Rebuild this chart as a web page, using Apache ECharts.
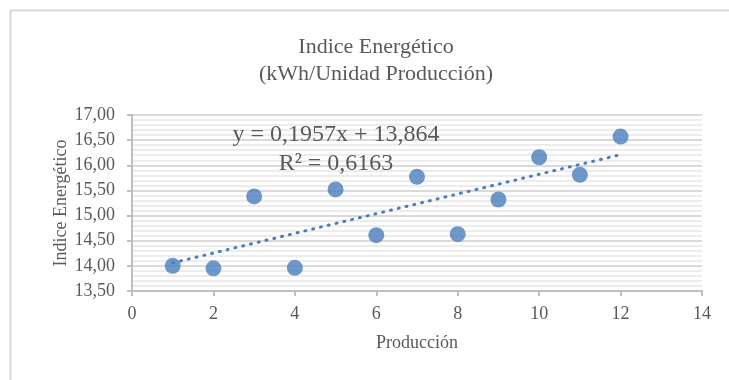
<!DOCTYPE html>
<html>
<head>
<meta charset="utf-8">
<style>
  html, body { margin: 0; padding: 0; background: #ffffff; }
  #chart { width: 729px; height: 380px; }
</style>
<script src="https://cdn.jsdelivr.net/npm/echarts@6/dist/echarts.min.js"></script>
</head>
<body>
<div id="chart"></div>
<script>
// Production index vs. energy index (kWh per unit produced)
const produccion = [1, 2, 3, 4, 5, 6, 7, 8, 9, 10, 11, 12];
const indice = [14.00, 13.95, 15.38, 13.96, 15.52, 14.61, 15.77, 14.63, 15.32, 16.16, 15.81, 16.57];

// Linear trend coefficients shown in the equation label
const slope = 0.1957;
const intercept = 13.864;
const r2 = 0.6163;

const fmt = (v, d) => v.toFixed(d).replace('.', ',');

const points = produccion.map((x, i) => [x, indice[i]]);
const trendX = [produccion[0], produccion[produccion.length - 1]];
const trend = trendX.map(x => [x, intercept + slope * x]);

const serif = '"Liberation Serif", "DejaVu Serif", serif';
const textGray = '#595959';
const blue = '#4a7ebb';

const chart = echarts.init(document.getElementById('chart'), null, { renderer: 'canvas' });
chart.setOption({
  animation: false,
  backgroundColor: '#ffffff',
  graphic: [{
    type: 'rect',
    shape: { x: 10.5, y: 10.5, width: 900, height: 600 },
    style: { fill: 'none', stroke: '#d9d9d9', lineWidth: 2 },
    silent: true,
    z: -10
  }, {
    // chart title, two lines
    type: 'text',
    x: 376,
    y: 34,
    z: 100,
    style: {
      text: 'Indice Energético\n(kWh/Unidad Producción)',
      font: '22px ' + serif,
      fill: textGray,
      align: 'center',
      verticalAlign: 'top',
      lineHeight: 27
    }
  }, {
    // trendline equation
    type: 'text',
    x: 336,
    y: 120,
    z: 100,
    style: {
      text: 'y = ' + fmt(slope, 4) + 'x + ' + fmt(intercept, 3) + '\nR² = ' + fmt(r2, 4),
      font: '24px ' + serif,
      fill: textGray,
      align: 'center',
      verticalAlign: 'top',
      lineHeight: 29
    }
  }],
  grid: { left: 132, right: 27, top: 115, bottom: 89 },
  xAxis: {
    type: 'value',
    min: 0,
    max: 14,
    interval: 2,
    name: 'Producción',
    nameLocation: 'middle',
    nameGap: 43,
    nameMoveOverlap: false,
    nameTextStyle: { fontFamily: serif, fontSize: 18, color: textGray },
    axisLine: { show: true, lineStyle: { color: '#bfbfbf', width: 2 } },
    axisTick: { show: true, length: 5, lineStyle: { color: '#bfbfbf', width: 2 } },
    axisLabel: { fontFamily: serif, fontSize: 18, color: textGray, margin: 14 },
    splitLine: { show: false }
  },
  yAxis: {
    type: 'value',
    min: 13.5,
    max: 17,
    interval: 0.5,
    name: 'Indice Energético',
    nameLocation: 'middle',
    nameGap: 62,
    nameMoveOverlap: false,
    nameTextStyle: { fontFamily: serif, fontSize: 18, color: textGray },
    axisLine: { show: true, lineStyle: { color: '#bfbfbf', width: 2 } },
    axisTick: { show: true, length: 5, lineStyle: { color: '#bfbfbf', width: 2 } },
    axisLabel: {
      fontFamily: serif, fontSize: 18, color: textGray, margin: 17,
      formatter: v => fmt(v, 2)
    },
    splitLine: { show: true, lineStyle: { color: '#d9d9d9', width: 2 } },
    minorTick: { show: false, splitNumber: 5 },
    minorSplitLine: { show: true, lineStyle: { color: '#ececec', width: 2 } }
  },
  series: [{
    name: 'Indice',
    type: 'scatter',
    data: points,
    symbolSize: 16,
    itemStyle: { color: blue },
    z: 3
  }, {
    name: 'Tendencia',
    type: 'line',
    data: trend,
    symbol: 'none',
    lineStyle: { color: blue, width: 3, type: [1, 7], cap: 'round' },
    z: 2
  }]
});
</script>
</body>
</html>
